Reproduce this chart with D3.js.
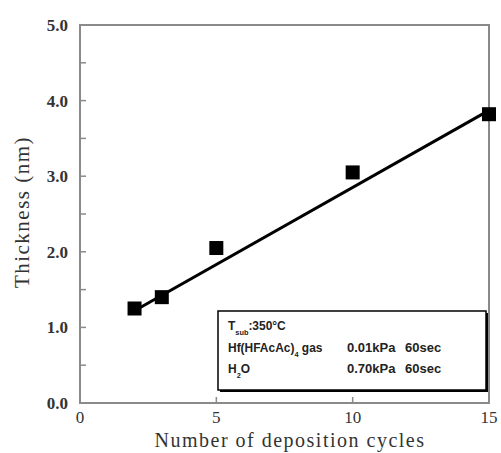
<!DOCTYPE html>
<html>
<head>
<meta charset="utf-8">
<script src="https://cdn.jsdelivr.net/npm/d3@7"></script>
<style>
  body { margin: 0; background: #fff; }
  svg { display: block; }
</style>
</head>
<body>
<div id="chart"></div>
<script>
const width = 501, height = 453;
const margin = { left: 80, right: 12, top: 25, bottom: 50 };

// data
const cycles = [2, 3, 5, 10, 15];
const thickness = [1.25, 1.4, 2.05, 3.05, 3.82];
const fit_x = [2, 15];
const fit_y = [1.22, 3.87];
const x_ticks = [0, 5, 10, 15];
const y_ticks = [0, 1, 2, 3, 4, 5];
const y_minor = [0.5, 1.5, 2.5, 3.5, 4.5];
const legend_rows = [
  { name: 'T', sub: 'sub', rest: ':350\u00b0C', p: '', t: '' },
  { name: 'Hf(HFAcAc)', sub: '4', rest: ' gas', p: '0.01kPa', t: '60sec' },
  { name: 'H', sub: '2', rest: 'O', p: '0.70kPa', t: '60sec' }
];

const x = d3.scaleLinear().domain([0, 15]).range([margin.left, width - margin.right]);
const y = d3.scaleLinear().domain([0, 5]).range([height - margin.bottom, margin.top]);

const svg = d3.select('#chart').append('svg')
  .attr('width', width).attr('height', height);

const axis_col = '#8a8a8a';
const serif = '"Liberation Serif", "DejaVu Serif", serif';

// frame
svg.append('rect')
  .attr('x', x(0)).attr('y', y(5))
  .attr('width', x(15) - x(0)).attr('height', y(0) - y(5))
  .attr('fill', 'none').attr('stroke', axis_col).attr('stroke-width', 2);

// y ticks
svg.selectAll('.ytick')
  .data(y_ticks.concat(y_minor))
  .join('line')
    .attr('class', 'ytick')
    .attr('x1', x(0)).attr('x2', x(0) + 6)
    .attr('y1', d => y(d)).attr('y2', d => y(d))
    .attr('stroke', axis_col).attr('stroke-width', 1.5);

svg.selectAll('.xtick')
  .data(x_ticks.slice(1, 3))
  .join('line')
    .attr('class', 'xtick')
    .attr('x1', d => x(d)).attr('x2', d => x(d))
    .attr('y1', y(0)).attr('y2', y(0) - 6)
    .attr('stroke', axis_col).attr('stroke-width', 1.5);

svg.selectAll('.ylabel')
  .data(y_ticks)
  .join('text')
    .attr('class', 'ylabel')
    .attr('x', x(0) - 12).attr('y', d => y(d) + 6)
    .attr('text-anchor', 'end')
    .attr('font-family', serif).attr('font-weight', 'bold').attr('font-size', 17)
    .attr('fill', '#333')
    .text(d => d.toFixed(1));

svg.selectAll('.xlabel')
  .data(x_ticks)
  .join('text')
    .attr('class', 'xlabel')
    .attr('x', d => x(d)).attr('y', y(0) + 20)
    .attr('text-anchor', 'middle')
    .attr('font-family', serif).attr('font-size', 17)
    .attr('fill', '#333')
    .text(d => d);

svg.append('text')
  .attr('x', 290).attr('y', height - 6)
  .attr('text-anchor', 'middle')
  .attr('font-family', serif).attr('font-size', 20)
  .attr('letter-spacing', 1.5)
  .attr('fill', '#333')
  .text('Number of deposition cycles');

svg.append('text')
  .attr('transform', 'translate(29,212) rotate(-90)')
  .attr('text-anchor', 'middle')
  .attr('font-family', serif).attr('font-size', 21)
  .attr('letter-spacing', 1.5)
  .attr('fill', '#333')
  .text('Thickness (nm)');

// fit line
svg.append('line')
  .attr('x1', x(fit_x[0])).attr('y1', y(fit_y[0]))
  .attr('x2', x(fit_x[1])).attr('y2', y(fit_y[1]))
  .attr('stroke', '#000').attr('stroke-width', 3);

// points
const ms = 14;
svg.selectAll('.pt')
  .data(cycles.map((c, i) => ({ c, t: thickness[i] })))
  .join('rect')
    .attr('class', 'pt')
    .attr('x', d => x(d.c) - ms / 2).attr('y', d => y(d.t) - ms / 2)
    .attr('width', ms).attr('height', ms)
    .attr('fill', '#000');

// legend box
const lx = 218, ly = 311, lw = 268, lh = 79;
svg.append('rect')
  .attr('x', lx + 2).attr('y', ly + 2).attr('width', lw).attr('height', lh)
  .attr('fill', '#000');
svg.append('rect')
  .attr('x', lx).attr('y', ly).attr('width', lw).attr('height', lh)
  .attr('fill', '#fff').attr('stroke', '#000').attr('stroke-width', 1.5);

const sans = '"Liberation Sans", Arial, sans-serif';
const rows = svg.selectAll('.lrow')
  .data(legend_rows)
  .join('g')
    .attr('class', 'lrow')
    .attr('transform', (d, i) => `translate(${lx + 10},${ly + 19 + i * 21.5})`)
    .attr('font-family', sans).attr('font-weight', 'bold').attr('font-size', 13)
    .attr('fill', '#222');

rows.append('text')
  .attr('transform', 'scale(0.92,1)')
  .call(t => {
    t.append('tspan').text(d => d.name);
    t.append('tspan').attr('dy', 5).attr('font-size', 8).text(d => d.sub);
    t.append('tspan').attr('dy', -5).text(d => d.rest);
  });
rows.append('text')
  .attr('x', 119)
  .text(d => d.p);
rows.append('text')
  .attr('x', 177)
  .text(d => d.t);
</script>
</body>
</html>
